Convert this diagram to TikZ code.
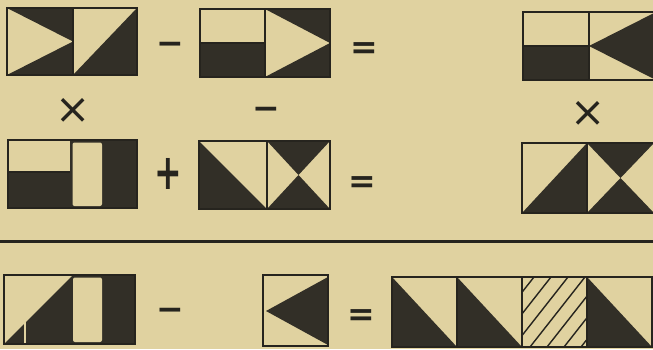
\documentclass[tikz,border=0pt]{standalone}
\usepackage{fontspec}
\usepackage{graphicx}
\newfontfamily\opfont{DejaVu Sans}
\definecolor{paper}{RGB}{224,210,160}
\definecolor{ink}{RGB}{38,36,30}
\definecolor{inkfill}{RGB}{50,47,39}
\tikzset{
  dk/.style={fill=inkfill, draw=none},
  lt/.style={fill=paper, draw=none},
  frame/.style={draw=ink, line width=2.4pt, line join=miter},
  op/.style={text=ink, inner sep=0pt, font=\opfont\bfseries\fontsize{33}{33}\selectfont},
  opx/.style={text=ink, inner sep=0pt, font=\opfont\fontsize{42}{42}\selectfont},
  rule/.style={draw=ink, line width=2.2pt},
  hatch/.style={draw=ink, line width=1.4pt}
}
\begin{document}
\begin{tikzpicture}[x=1pt,y=-1pt]
\fill[paper] (0,0) rectangle (653,349);
\useasboundingbox (0,0) rectangle (653,349);

% ---------- Row 1 ----------
% P1
\fill[dk] (7,8) -- (73,8) -- (73,41.5) -- cycle;
\fill[dk] (7,75) -- (73,75) -- (73,41.5) -- cycle;
\fill[dk] (73,75) -- (137,8) -- (137,75) -- cycle;
\draw[frame] (7,8) rectangle (137,75) (73,8) -- (73,75);
% P2
\fill[dk] (200,43) rectangle (265,77);
\fill[dk] (265,9) -- (330,9) -- (330,43) -- cycle;
\fill[dk] (265,77) -- (330,77) -- (330,43) -- cycle;
\draw[frame] (200,9) rectangle (330,77) (265,9) -- (265,77) (200,43) -- (265,43);
% P3
\fill[dk] (523,46) rectangle (589,80);
\fill[dk] (589,46) -- (656,12) -- (656,80) -- cycle;
\draw[frame] (523,12) rectangle (656,80) (589,12) -- (589,80) (523,46) -- (589,46);

\node[op] (minusA) at (170,48.5) {−};
\node[op] (eqA) at (364,51) {=};
\node[opx] (timesA) at (73,111) {×};
\node[op] (minusB) at (266,113) {−};
\node[opx] (timesB) at (588,114) {×};

% ---------- Row 2 ----------
% P4
\fill[dk] (8,172) rectangle (70,208);
\fill[dk] (70,140) rectangle (137,208);
\fill[lt, rounded corners=2pt] (72.5,142.5) rectangle (102,206);
\draw[frame] (8,140) rectangle (137,208) (8,172) -- (70,172);
% P5
\fill[dk] (199,141) -- (267,209) -- (199,209) -- cycle;
\fill[dk] (267,141) -- (330,141) -- (298.5,175) -- cycle;
\fill[dk] (267,209) -- (330,209) -- (298.5,175) -- cycle;
\draw[frame] (199,141) rectangle (330,209) (267,141) -- (267,209);
% P6
\fill[dk] (522,213) -- (587,143) -- (587,213) -- cycle;
\fill[dk] (587,143) -- (654,143) -- (620.5,178) -- cycle;
\fill[dk] (587,213) -- (654,213) -- (620.5,178) -- cycle;
\draw[frame] (522,143) rectangle (654,213) (587,143) -- (587,213);

\node[op] (plusA) at (168,174) {\scalebox{1}[1.5]{+}};
\node[op] (eqB) at (362,184.5) {=};

% ---------- divider ----------
\coordinate (ruleL) at (0,241.5);
\coordinate (ruleR) at (653,241.5);
\draw[rule] (ruleL) -- (ruleR);

% ---------- Row 3 ----------
% P7
\fill[dk] (5,343) -- (72,276) -- (72,343) -- cycle;
\fill[dk] (72,275) rectangle (135,344);
\fill[lt, rounded corners=2pt] (73,277.5) rectangle (102,342);
\draw[paper, line width=1.2pt] (25,320) -- (25,343);
\draw[frame] (4,275) rectangle (135,344);
% P8
\fill[dk] (328,277) -- (266,311) -- (328,345) -- cycle;
\draw[frame] (263,275) rectangle (328,346);
% P9
\fill[dk] (392,277) -- (457,347) -- (392,347) -- cycle;
\fill[dk] (457,277) -- (522,347) -- (457,347) -- cycle;
\fill[dk] (587,277) -- (652,347) -- (587,347) -- cycle;
\begin{scope}
\clip (522,277) rectangle (587,347);
\foreach \k in {0,...,8}
  \draw[hatch] ({522-60+\k*17},347) -- ++(55,-70);
\end{scope}
\draw[frame] (392,277) rectangle (652,347)
  (457,277) -- (457,347) (522,277) -- (522,347) (587,277) -- (587,347);

\node[op] (minusC) at (170,314) {−};
\node[op] (eqC) at (361,318) {=};
\end{tikzpicture}
\end{document}
